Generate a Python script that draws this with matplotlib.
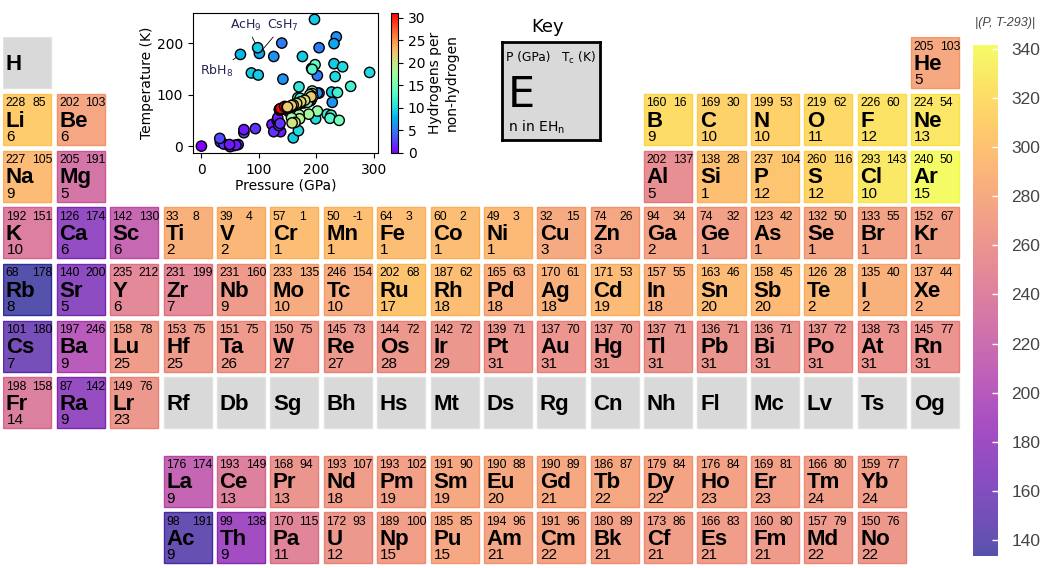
import numpy as np
import matplotlib as mpl
import matplotlib.pyplot as plt
from matplotlib.patches import Rectangle

# superhydride data: pressure (GPa), Tc (K), n in EH_n
elements = ["H", "He",
            "Li", "Be", "B", "C", "N", "O", "F", "Ne",
            "Na", "Mg", "Al", "Si", "P", "S", "Cl", "Ar",
            "K", "Ca", "Sc", "Ti", "V", "Cr", "Mn", "Fe", "Co", "Ni", "Cu", "Zn", "Ga", "Ge", "As", "Se", "Br", "Kr",
            "Rb", "Sr", "Y", "Zr", "Nb", "Mo", "Tc", "Ru", "Rh", "Pd", "Ag", "Cd", "In", "Sn", "Sb", "Te", "I", "Xe",
            "Cs", "Ba", "Lu", "Hf", "Ta", "W", "Re", "Os", "Ir", "Pt", "Au", "Hg", "Tl", "Pb", "Bi", "Po", "At", "Rn",
            "Fr", "Ra", "Lr",
            "La", "Ce", "Pr", "Nd", "Pm", "Sm", "Eu", "Gd", "Tb", "Dy", "Ho", "Er", "Tm", "Yb",
            "Ac", "Th", "Pa", "U", "Np", "Pu", "Am", "Cm", "Bk", "Cf", "Es", "Fm", "Md", "No"]
pressure = [0, 205,
            228, 202, 160, 169, 199, 219, 226, 224,
            227, 205, 202, 138, 237, 260, 293, 240,
            192, 126, 142, 33, 39, 57, 50, 64, 60, 49, 32, 74, 94, 74, 123, 132, 133, 152,
            68, 140, 235, 231, 231, 233, 246, 202, 187, 165, 170, 171, 157, 163, 158, 126, 135, 137,
            101, 197, 158, 153, 151, 150, 145, 144, 142, 139, 137, 137, 137, 136, 136, 137, 138, 145,
            198, 87, 149,
            176, 193, 168, 193, 193, 191, 190, 190, 186, 179, 176, 169, 166, 159,
            98, 99, 170, 172, 189, 185, 194, 191, 180, 173, 166, 160, 157, 150]
tc = [0, 103,
      85, 103, 16, 30, 53, 62, 60, 54,
      105, 191, 137, 28, 104, 116, 143, 50,
      151, 174, 130, 8, 4, 1, -1, 3, 2, 3, 15, 26, 34, 32, 42, 50, 55, 67,
      178, 200, 212, 199, 160, 135, 154, 68, 62, 63, 61, 53, 55, 46, 45, 28, 40, 44,
      180, 246, 78, 75, 75, 75, 73, 72, 72, 71, 70, 70, 71, 71, 71, 72, 73, 77,
      158, 142, 76,
      174, 149, 94, 107, 102, 90, 88, 89, 87, 84, 84, 81, 80, 77,
      191, 138, 115, 93, 100, 85, 96, 96, 89, 86, 83, 80, 79, 76]
n_h = [0, 5,
       6, 6, 9, 10, 10, 11, 12, 13,
       9, 5, 5, 1, 12, 12, 10, 15,
       10, 6, 6, 2, 2, 1, 1, 1, 1, 1, 3, 3, 2, 1, 1, 1, 1, 1,
       8, 5, 6, 7, 9, 10, 10, 17, 18, 18, 18, 19, 18, 20, 20, 2, 2, 2,
       7, 9, 25, 25, 26, 27, 27, 28, 29, 31, 31, 31, 31, 31, 31, 31, 31, 31,
       14, 9, 23,
       9, 13, 13, 18, 19, 19, 20, 21, 22, 22, 23, 23, 24, 24,
       9, 9, 11, 12, 15, 15, 21, 22, 21, 21, 21, 21, 22, 22]
grey_tiles = ["H", "Rf", "Db", "Sg", "Bh", "Hs", "Mt", "Ds", "Rg", "Cn", "Nh", "Fl", "Mc", "Lv", "Ts", "Og"]

# periodic table layout ('.' = empty cell)
layout = [
    "H . . . . . . . . . . . . . . . . He",
    "Li Be . . . . . . . . . . B C N O F Ne",
    "Na Mg . . . . . . . . . . Al Si P S Cl Ar",
    "K Ca Sc Ti V Cr Mn Fe Co Ni Cu Zn Ga Ge As Se Br Kr",
    "Rb Sr Y Zr Nb Mo Tc Ru Rh Pd Ag Cd In Sn Sb Te I Xe",
    "Cs Ba Lu Hf Ta W Re Os Ir Pt Au Hg Tl Pb Bi Po At Rn",
    "Fr Ra Lr Rf Db Sg Bh Hs Mt Ds Rg Cn Nh Fl Mc Lv Ts Og",
    ". . . La Ce Pr Nd Pm Sm Eu Gd Tb Dy Ho Er Tm Yb",
    ". . . Ac Th Pa U Np Pu Am Cm Bk Cf Es Fm Md No",
]
row_y = [0, 1, 2, 3, 4, 5, 6, 7.38, 8.38]

W, H = 1047, 568
fig = plt.figure(figsize=(W / 100, H / 100), dpi=100)

info = {e: (p, t, n) for e, p, t, n in zip(elements, pressure, tc, n_h)}
dist = {e: np.hypot(p, t - 293) for e, (p, t, n) in info.items() if e not in grey_tiles}
norm = mpl.colors.Normalize(min(dist.values()), max(dist.values()))


def wash(a):
    base = plt.cm.plasma(np.linspace(0, 1, 256))[:, :3]
    return mpl.colors.ListedColormap(1 - a * (1 - base))


face_cmap = wash(0.7)
edge_cmap = wash(0.85)

# ---- periodic table
ax = fig.add_axes([3.3 / W, 0, 961.2 / W, 530.7 / H])
ax.set_xlim(0, 18)
ax.set_ylim(530.7 / 56.67, 0)
ax.axis("off")

num_font = dict(family="Liberation Sans", fontsize=8.8)
for line, r in zip(layout, row_y):
    for c, sym in enumerate(line.split()):
        if sym == ".":
            continue
        if sym in grey_tiles:
            ax.add_patch(Rectangle((c, r), 0.9, 0.9, facecolor="#d9d9d9", edgecolor="#e2e2e2", lw=1))
        else:
            p, t, n = info[sym]
            ax.add_patch(Rectangle((c, r), 0.9, 0.9, facecolor=face_cmap(norm(dist[sym])),
                                   edgecolor=edge_cmap(norm(dist[sym])), lw=1))
            ax.text(c + 0.045, r + 0.22, str(p), **num_font)
            ax.text(c + 0.54, r + 0.22, str(t), **num_font)
            ax.text(c + 0.06, r + 0.83, str(n), family="Liberation Sans", fontsize=11)
        ax.text(c + 0.05, r + 0.575, sym, family="Liberation Sans", fontsize=16, fontweight="bold")

# ---- key box
kax = fig.add_axes([501.7 / W, 1 - 140 / H, 98.3 / W, 97.7 / H])
kax.set_facecolor("#d9d9d9")
kax.set_xticks([])
kax.set_yticks([])
for s in kax.spines.values():
    s.set_linewidth(2)
kax.text(0.04, 0.84, "P (GPa)", fontsize=8.8, va="center", transform=kax.transAxes)
kax.text(0.955, 0.84, "T$_\\mathregular{c}$ (K)", fontsize=8.8, va="center", ha="right", transform=kax.transAxes)
kax.text(0.06, 0.34, "E", fontsize=31, va="baseline", transform=kax.transAxes)
kax.text(0.06, 0.13, "n in EH$_\\mathregular{n}$", fontsize=10, va="center", transform=kax.transAxes)
fig.text(548 / W, 1 - 27 / H, "Key", fontsize=13, ha="center", va="center")

# ---- colour bar of |(P, T-293)|
cax = fig.add_axes([973.3 / W, 1 - 555.7 / H, 24.4 / W, 510.7 / H])
cb = mpl.colorbar.ColorbarBase(cax, cmap=face_cmap, norm=norm)
cb.outline.set_visible(False)
cb.set_ticks(range(140, 341, 20))
cax.tick_params(direction="in", color="white", length=4, width=1, labelsize=12.5,
                labelcolor="#444444", pad=10)
for lab in cax.get_yticklabels():
    lab.set_family("Liberation Sans")
fig.text(1005 / W, 1 - 23 / H, "|(P, T-293)|", fontsize=9, style="italic", color="#444444",
         ha="center", va="center", family="Liberation Sans")

# ---- inset scatter
iax = fig.add_axes([193 / W, 1 - 153 / H, 185 / W, 140 / H])
sc = iax.scatter(pressure, tc, c=n_h, cmap="rainbow", vmin=0, vmax=31, s=55,
                 edgecolors="black", linewidths=1, zorder=3)
iax.set_xticks([0, 100, 200, 300])
iax.set_yticks([0, 100, 200])
iax.tick_params(labelsize=10)
iax.set_xlabel("Pressure (GPa)", fontsize=10, labelpad=1)
iax.set_ylabel("Temperature (K)", fontsize=10, labelpad=2)
lbl = dict(fontsize=9, color="#222255", ha="center", va="center",
           arrowprops=dict(arrowstyle="-", color="black", lw=0.6, shrinkA=1, shrinkB=4))
iax.annotate("RbH$_8$", xy=(68, 178), xytext=(27, 145), **lbl)
iax.annotate("AcH$_9$", xy=(98, 191), xytext=(78, 234), **lbl)
iax.annotate("CsH$_7$", xy=(101, 180), xytext=(142, 234), **lbl)

cax2 = fig.add_axes([391 / W, 1 - 153 / H, 7 / W, 140 / H])
cb2 = fig.colorbar(sc, cax=cax2, ticks=range(0, 31, 5))
cax2.tick_params(labelsize=10)
cb2.set_label("Hydrogens per\nnon-hydrogen", fontsize=10, labelpad=2)

fig.savefig("out.png", dpi=100)
